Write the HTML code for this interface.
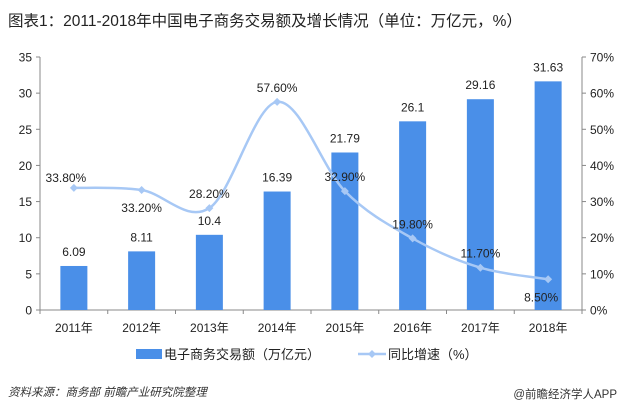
<!DOCTYPE html>
<html><head><meta charset="utf-8"><style>
body{margin:0;background:#fff;width:625px;height:414px;overflow:hidden;font-family:"Liberation Sans","Noto Sans CJK SC",sans-serif;}
</style></head><body>
<svg width="625" height="414" xmlns="http://www.w3.org/2000/svg" font-family="Liberation Sans, Noto Sans CJK SC, sans-serif">
<text x="8" y="26" font-size="15.5" fill="#222">图表1：2011-2018年中国电子商务交易额及增长情况（单位：万亿元，%）</text>
<g id="plot"></g>
<g>
<rect x="136" y="349" width="26" height="10" fill="#4a8fe8"/>
<text x="164" y="359" font-size="13" fill="#222">电子商务交易额（万亿元）</text>
<line x1="358" y1="354" x2="386" y2="354" stroke="#a7c8f5" stroke-width="2.5"/>
<path d="M372 350 L376 354 L372 358 L368 354Z" fill="#a7c8f5"/>
<text x="388" y="359" font-size="13" fill="#222">同比增速（%）</text>
</g>
<text x="8" y="396" font-size="11.5" font-style="italic" fill="#333">资料来源：商务部 前瞻产业研究院整理</text>
<text x="617" y="398" font-size="11.5" fill="#333" text-anchor="end">@前瞻经济学人APP</text>
</svg>
<script>
const categories=["2011年","2012年","2013年","2014年","2015年","2016年","2017年","2018年"];
const amounts=[6.09,8.11,10.4,16.39,21.79,26.1,29.16,31.63];
const amountLabels=["6.09","8.11","10.4","16.39","21.79","26.1","29.16","31.63"];
const growth=[33.8,33.2,28.2,57.6,32.9,19.8,11.7,8.5];
const growthLabels=["33.80%","33.20%","28.20%","57.60%","32.90%","19.80%","11.70%","8.50%"];
const leftTicks=[0,5,10,15,20,25,30,35];
const rightTicks=["0%","10%","20%","30%","40%","50%","60%","70%"];
const NS="http://www.w3.org/2000/svg";
const g=document.getElementById('plot');
const X0=40,X1=582,Y0=310,Y1=57;
const bw=(X1-X0)/categories.length;
const yL=v=>Y0-(v/35)*(Y0-Y1);
const yR=v=>Y0-(v/70)*(Y0-Y1);
const xc=i=>X0+bw*(i+0.5);
function el(t,a,txt){const e=document.createElementNS(NS,t);for(const k in a)e.setAttribute(k,a[k]);if(txt!=null)e.textContent=txt;g.appendChild(e);return e;}
let e;
e=el('line',{x1:X0,y1:Y1,x2:X0,y2:Y0,stroke:'#888'});


e=el('line',{x1:X1,y1:Y1,x2:X1,y2:Y0,stroke:'#888'});


e=el('line',{x1:X0,y1:Y0,x2:X1,y2:Y0,stroke:'#888'});


leftTicks.forEach((v,i)=>{
 const y=yL(v);
 el('line',{x1:X0-4,y1:y,x2:X0,y2:y,stroke:'#888'});
 e=el('text',{x:X0-8,y:y+4.5,'font-size':12,'text-anchor':'end',fill:'#222'},String(v));
 
 
 el('line',{x1:X1,y1:y,x2:X1+4,y2:y,stroke:'#888'});
 e=el('text',{x:X1+8,y:y+4.5,'font-size':12,fill:'#222'},rightTicks[i]);
 
 
});
for(let i=0;i<=categories.length;i++){el('line',{x1:X0+bw*i,y1:Y0,x2:X0+bw*i,y2:Y0+4,stroke:'#888'});}
categories.forEach((c,i)=>{
 e=el('text',{x:xc(i),y:Y0+22,'font-size':12,'text-anchor':'middle',fill:'#222'},c);
 
 
 const y=yL(amounts[i]);
 e=el('rect',{x:xc(i)-13.5,y:y,width:27,height:Y0-y,fill:'#4a8fe8'});
 
 
 e=el('text',{x:xc(i),y:y-10,'font-size':12,'text-anchor':'middle',fill:'#222'},amountLabels[i]);
 
 
});
const pts=growth.map((v,i)=>[xc(i),yR(v)]);
let d='M'+pts[0][0]+' '+pts[0][1];
for(let i=0;i<pts.length-1;i++){
 const p0=pts[Math.max(0,i-1)],p1=pts[i],p2=pts[i+1],p3=pts[Math.min(pts.length-1,i+2)];
 const c1=[p1[0]+(p2[0]-p0[0])/6,p1[1]+(p2[1]-p0[1])/6];
 const c2=[p2[0]-(p3[0]-p1[0])/6,p2[1]-(p3[1]-p1[1])/6];
 d+=` C${c1[0]} ${c1[1]} ${c2[0]} ${c2[1]} ${p2[0]} ${p2[1]}`;
}
e=el('path',{d:d,fill:'none',stroke:'#a7c8f5','stroke-width':2.5});


const offs=[[-8,-6],[0,22],[0,-10],[0,-10],[0,-10],[0,-10],[0,-10],[-7,22]];
pts.forEach((p,i)=>{
 e=el('path',{d:`M${p[0]} ${p[1]-4}L${p[0]+4} ${p[1]}L${p[0]} ${p[1]+4}L${p[0]-4} ${p[1]}Z`,fill:'#a7c8f5'});
 
 
 e=el('text',{x:p[0]+offs[i][0],y:p[1]+offs[i][1],'font-size':12,'text-anchor':'middle',fill:'#222'},growthLabels[i]);
 
 
});
</script>
</body></html>
